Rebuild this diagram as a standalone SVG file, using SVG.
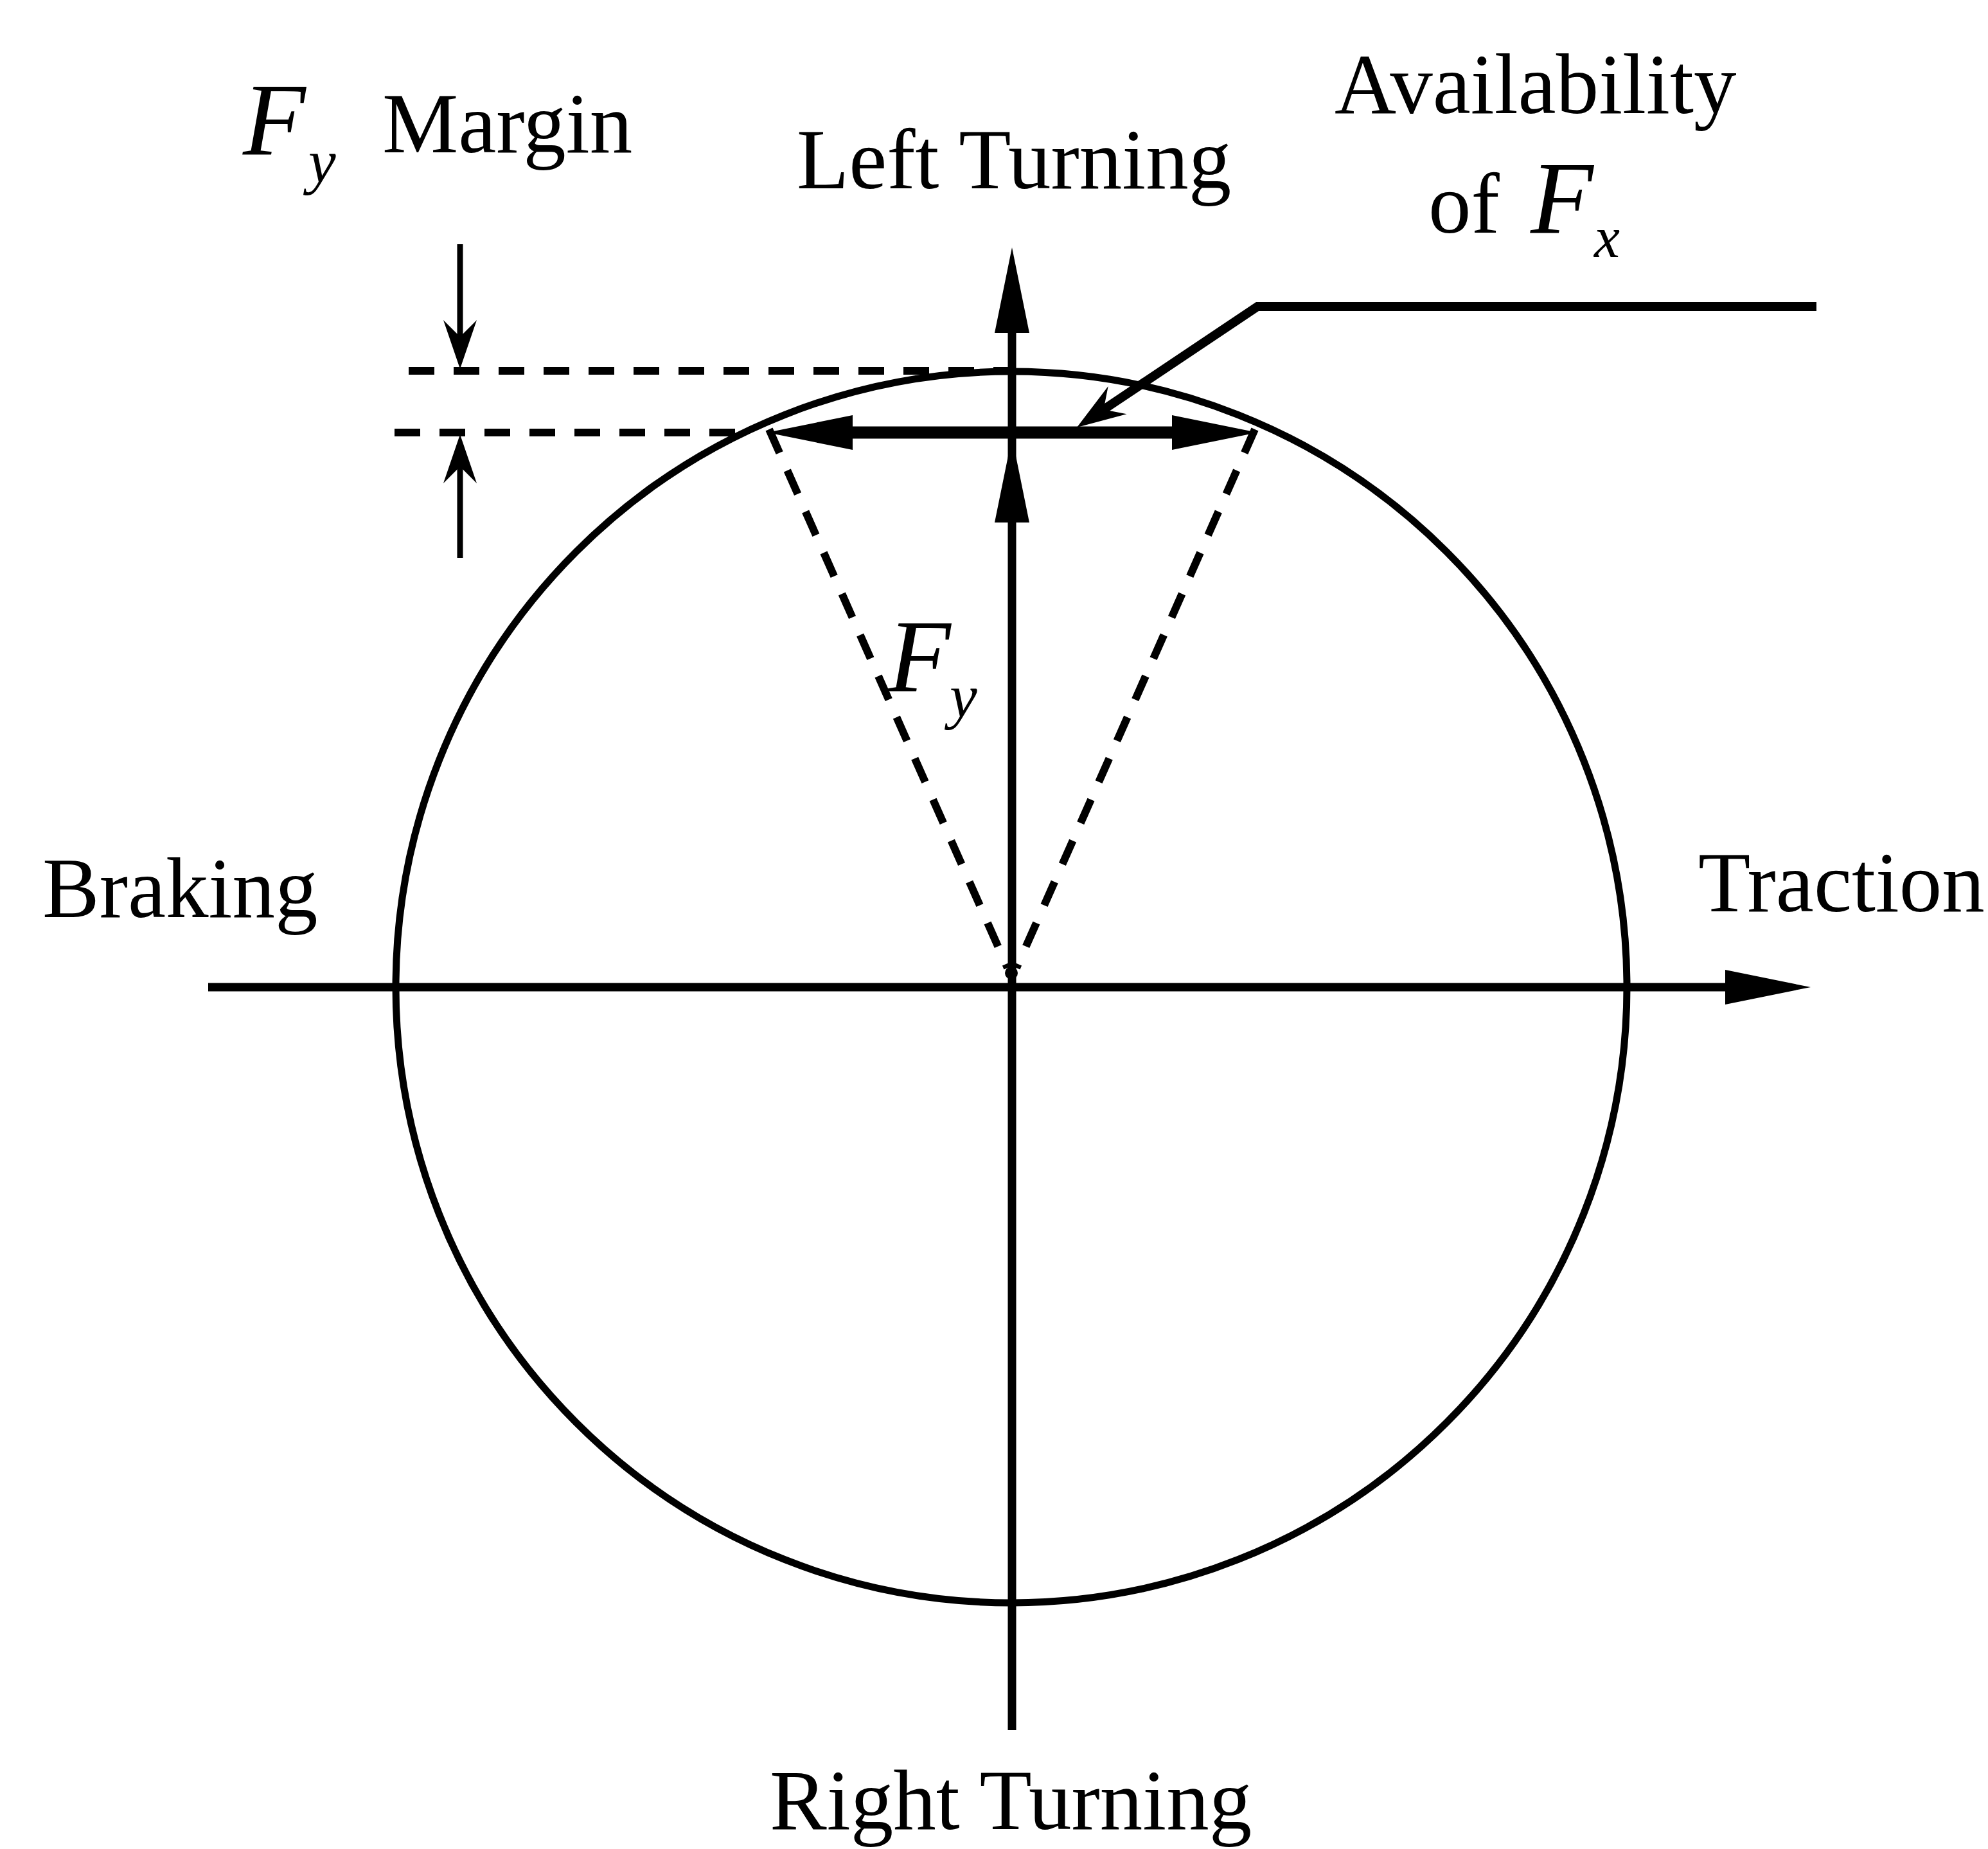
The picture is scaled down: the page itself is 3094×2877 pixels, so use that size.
<svg xmlns="http://www.w3.org/2000/svg" xmlns:xlink="http://www.w3.org/1999/xlink" width="3094" height="2877" viewBox="0 0 3094 2877">
<style>
.txt{font-family:"Liberation Serif","Times New Roman",serif;font-size:133px;fill:#000}
.it{font-family:"Liberation Serif","Times New Roman",serif;font-style:italic;fill:#000}
.ln{stroke:#000;fill:none;stroke-linecap:butt}
.dash{stroke:#000;fill:none;stroke-width:12;stroke-dasharray:40 30}
.head{fill:#000;stroke:none}
</style>
<defs>
<path id="bigHead" d="M0,0 L-133,-27 L-133,27 Z"/>
<path id="smallHead" d="M0,0 L-76,-26 L-50,0 L-76,26 Z"/>
</defs>
<rect x="0" y="0" width="3094" height="2877" fill="#fff"/>

<g id="circle-node">
<circle cx="1574" cy="1536" r="958" class="ln" stroke-width="11"/>
</g>

<g id="connectors">
<!-- horizontal axis -->
<line x1="324" y1="1536" x2="2700" y2="1536" class="ln" stroke-width="13"/>
<use xlink:href="#bigHead" href="#bigHead" class="head" transform="translate(2818,1536)"/>
<!-- vertical axis -->
<line x1="1575" y1="2692" x2="1575" y2="505" class="ln" stroke-width="13"/>
<use xlink:href="#bigHead" href="#bigHead" class="head" transform="translate(1575,385) rotate(-90)"/>
<!-- Fy arrow head -->
<use xlink:href="#bigHead" href="#bigHead" class="head" transform="translate(1575,680) rotate(-90)"/>
<!-- double arrow Fx -->
<line x1="1315" y1="673" x2="1835" y2="673" class="ln" stroke-width="19"/>
<use xlink:href="#bigHead" href="#bigHead" class="head" transform="translate(1194,673) rotate(180)"/>
<use xlink:href="#bigHead" href="#bigHead" class="head" transform="translate(1957,673)"/>
<!-- dashed V -->
<line x1="1197" y1="668" x2="1568" y2="1506" class="dash"/>
<line x1="1953" y1="668" x2="1582" y2="1506" class="dash"/>
<circle cx="1574" cy="1514" r="10" class="head"/>
<!-- margin dashed lines -->
<line x1="636" y1="577" x2="1572" y2="577" class="dash"/>
<line x1="614" y1="673" x2="1160" y2="673" class="dash"/>
<!-- margin arrows -->
<line x1="716" y1="380" x2="716" y2="530" class="ln" stroke-width="9"/>
<use xlink:href="#smallHead" href="#smallHead" class="head" transform="translate(716,574) rotate(90)"/>
<line x1="716" y1="868" x2="716" y2="720" class="ln" stroke-width="9"/>
<use xlink:href="#smallHead" href="#smallHead" class="head" transform="translate(716,676) rotate(-90)"/>
<!-- leader -->
<polyline points="2827,477 1957,477 1712,641" class="ln" stroke-width="14" stroke-linejoin="miter"/>
<use xlink:href="#smallHead" href="#smallHead" class="head" transform="translate(1676,665) rotate(146.2)"/>
</g>

<g id="label-fy-margin">
<text x="378" y="240" class="it" font-size="160">F</text>
<text x="480" y="284" class="it" font-size="96">y</text>
<text x="595" y="237" class="txt">Margin</text>
</g>
<g id="label-left-turning">
<text x="1240" y="293" class="txt">Left Turning</text>
</g>
<g id="label-availability">
<text x="2077" y="176" class="txt">Availability</text>
<text x="2223" y="362" class="txt">of</text>
<text x="2382" y="362" class="it" font-size="160">F</text>
<text x="2481" y="400" class="it" font-size="90">x</text>
</g>
<g id="label-fy">
<text x="1382" y="1075" class="it" font-size="160">F</text>
<text x="1478" y="1116" class="it" font-size="96">y</text>
</g>
<g id="label-braking">
<text x="66" y="1427" class="txt">Braking</text>
</g>
<g id="label-traction">
<text x="2643" y="1418" class="txt">Traction</text>
</g>
<g id="label-right-turning">
<text x="1198" y="2846" class="txt">Right Turning</text>
</g>
</svg>
